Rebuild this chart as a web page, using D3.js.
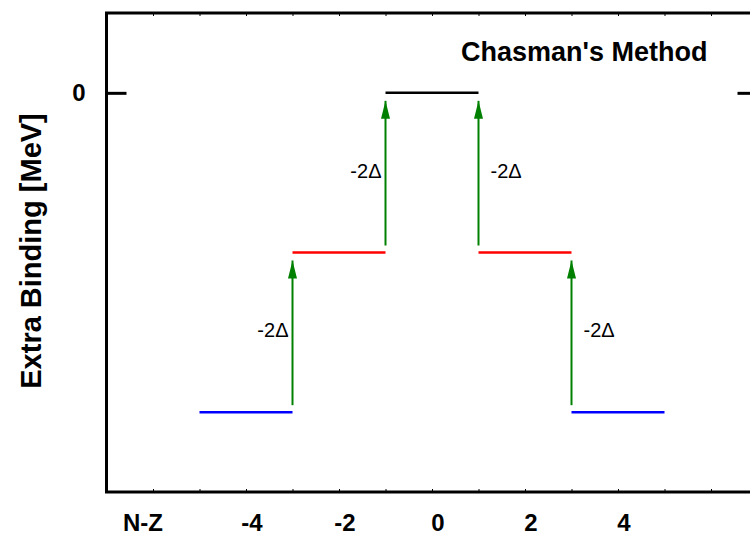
<!DOCTYPE html>
<html>
<head>
<meta charset="utf-8">
<script src="https://cdn.jsdelivr.net/npm/d3@7"></script>
<style>
  body { margin: 0; background: #fff; }
  svg { display: block; font-family: "Liberation Sans", Arial, sans-serif; }
</style>
</head>
<body>
<svg id="chart" width="750" height="536"></svg>
<script>
// levels (N-Z, extra binding in units of Delta)
const levelNZ = [-4, -2, 0, 2, 4];
const levelE = [-4, -2, 0, -2, -4];
const levelColors = ["#0000ff", "#ff0000", "#000000", "#ff0000", "#0000ff"];

// arrows between levels
const arrowNZ = [-3, -1, 1, 3];
const arrowFrom = [-4, -2, -2, -4];
const arrowTo = [-2, 0, 0, -2];
const arrowLabel = "-2\u0394";

const xTickLabels = [-4, -2, 0, 2, 4];
const yTickLabels = [0];

const svg = d3.select("#chart");
const x = d3.scaleLinear().domain([-7, 7]).range([106.5, 757.5]);
const y = d3.scaleLinear().domain([-5, 1]).range([492, 13]);

svg.append("defs").append("marker")
  .attr("id", "head")
  .attr("viewBox", "0 0 20 10")
  .attr("refX", 20).attr("refY", 5)
  .attr("markerWidth", 18).attr("markerHeight", 9)
  .attr("markerUnits", "userSpaceOnUse")
  .attr("orient", "auto")
  .append("path")
  .attr("d", "M0,0 L20,5 L0,10 Z")
  .attr("fill", "#008000");

// minor ticks, inward on top and bottom
const minor = d3.range(-6, 7);
svg.append("g")
  .attr("transform", `translate(0,${y(-5)})`)
  .call(d3.axisBottom(x).tickValues(minor).tickSize(-3).tickFormat(""))
  .call(g => g.select(".domain").remove())
  .call(g => g.selectAll("line").attr("stroke-width", 1));
svg.append("g")
  .attr("transform", `translate(0,${y(1)})`)
  .call(d3.axisTop(x).tickValues(minor).tickSize(-3).tickFormat(""))
  .call(g => g.select(".domain").remove())
  .call(g => g.selectAll("line").attr("stroke-width", 1));

// major y ticks inward on both sides
svg.append("g")
  .attr("transform", `translate(${x(-7)},0)`)
  .call(d3.axisLeft(y).tickValues(yTickLabels).tickSize(-20).tickFormat(""))
  .call(g => g.select(".domain").remove())
  .call(g => g.selectAll("line").attr("stroke-width", 3));
svg.append("g")
  .attr("transform", `translate(${x(7)},0)`)
  .call(d3.axisRight(y).tickValues(yTickLabels).tickSize(-20).tickFormat(""))
  .call(g => g.select(".domain").remove())
  .call(g => g.selectAll("line").attr("stroke-width", 3));

// frame
svg.append("rect")
  .attr("x", x(-7)).attr("y", y(1))
  .attr("width", x(7) - x(-7)).attr("height", y(-5) - y(1))
  .attr("fill", "none").attr("stroke", "#000").attr("stroke-width", 3);

// y tick labels
svg.selectAll(".ylab").data(yTickLabels).join("text")
  .attr("x", x(-7) - 21).attr("y", d => y(d) + 8)
  .attr("text-anchor", "end")
  .attr("font-size", 24).attr("font-weight", "bold")
  .text(d => d);

// x tick labels
svg.selectAll(".xlab").data(xTickLabels).join("text")
  .attr("x", d => x(d) + 6).attr("y", 531)
  .attr("text-anchor", "middle")
  .attr("font-size", 24).attr("font-weight", "bold")
  .text(d => d);
svg.append("text")
  .attr("x", x(-6) - 10).attr("y", 531)
  .attr("text-anchor", "middle")
  .attr("font-size", 24).attr("font-weight", "bold")
  .text("N-Z");

// axis title
svg.append("text")
  .attr("transform", "translate(41,251) rotate(-90)")
  .attr("text-anchor", "middle")
  .attr("font-size", 29).attr("font-weight", "bold")
  .text("Extra Binding [MeV]");

// title
svg.append("text")
  .attr("x", 461).attr("y", 61)
  .attr("font-size", 27).attr("font-weight", "bold")
  .text("Chasman's Method");

// levels
svg.selectAll(".level").data(levelNZ).join("line")
  .attr("x1", d => x(d - 1)).attr("x2", d => x(d + 1))
  .attr("y1", (d, i) => y(levelE[i])).attr("y2", (d, i) => y(levelE[i]))
  .attr("stroke", (d, i) => levelColors[i])
  .attr("stroke-width", 2.5);

// arrows
svg.selectAll(".arrow").data(arrowNZ).join("line")
  .attr("x1", d => x(d)).attr("x2", d => x(d))
  .attr("y1", (d, i) => y(arrowFrom[i]) - 7)
  .attr("y2", (d, i) => y(arrowTo[i]) + 8)
  .attr("stroke", "#008000").attr("stroke-width", 2)
  .attr("marker-end", "url(#head)");

svg.selectAll(".alab").data(arrowNZ).join("text")
  .attr("x", d => d < 0 ? x(d) - 4 : x(d) + 12)
  .attr("y", (d, i) => (y(arrowFrom[i]) + y(arrowTo[i])) / 2 + 5)
  .attr("text-anchor", d => d < 0 ? "end" : "start")
  .attr("font-size", 20)
  .text(arrowLabel);
</script>
</body>
</html>
